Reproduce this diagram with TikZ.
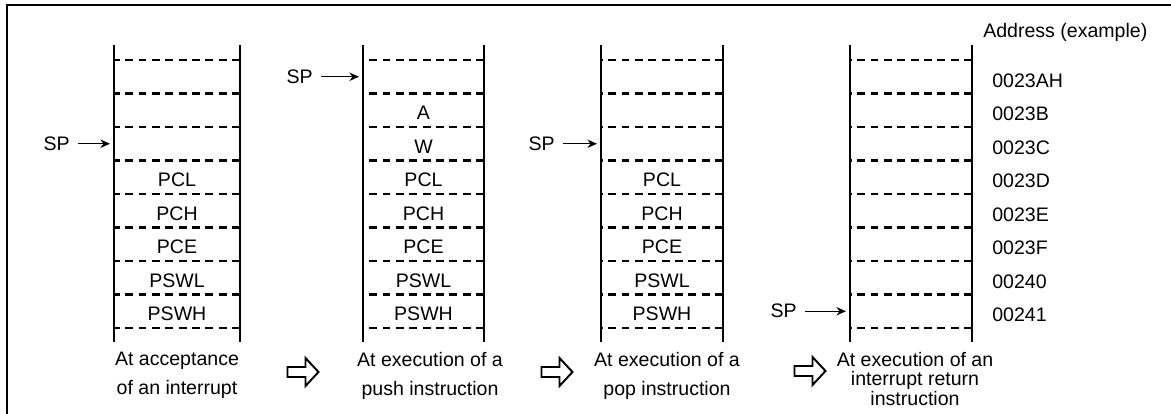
\documentclass[tikz,border=0pt]{standalone}
\usepackage{fontspec}
\setmainfont{Liberation Sans}
\usetikzlibrary{arrows.meta}

\tikzset{
  wall/.style={line width=1.2pt},
  cell/.style={line width=1.6pt, dash pattern=on 5.6pt off 3.9pt},
  lbl/.style={inner sep=0pt, font=\fontsize{13.9}{16}\selectfont},
  caption/.style={lbl, align=center, anchor=north, font=\fontsize{13.9}{20.8}\selectfont},
  sparrow/.style={->, line width=1pt, shorten <=0.2cm, shorten >=0.1cm},
  hollow/.style={line width=1.4pt, line join=miter},
}

\begin{document}
\begin{tikzpicture}[>={Stealth[length=0.24cm,width=0.21cm]}, x=0.025cm, y=-0.025cm]
\useasboundingbox (0,0) rectangle (1171,414);

% frame
\draw[line width=1.4pt] (7,414) -- (7,5) -- (1171,5);

% the four stacks
\foreach \n/\l/\r in {1/114/240, 2/363/484, 3/601/723, 4/850/972}{
  \draw[wall] (\l,45) -- (\l,342);
  \draw[wall] (\r,45) -- (\r,342);
  \foreach \k in {0,...,8}
    \draw[cell] (\r,60+33.5*\k) -- (\l,60+33.5*\k);
  \foreach \k in {1,...,8}{
    \coordinate (s\n r\k) at ({(\l+\r)/2},46.25+33.5*\k);
    \coordinate (s\n l\k) at (\l,43.25+33.5*\k);
  }
}

% saved registers
\foreach \n in {1,2,3}
  \foreach \t [count=\k from 4] in {PCL,PCH,PCE,PSWL,PSWH}
    \node[lbl] (s\n-\t) at (s\n r\k) {\t};
\node[lbl] (s2-A) at (s2r2) {A};
\node[lbl] (s2-W) at (s2r3) {W};

% stack pointer
\node[lbl, anchor=east] (sp1) at (70,143.75) {SP};
\draw[sparrow] (sp1) -- (s1l3);
\node[lbl, anchor=east] (sp2) at (313,76.75) {SP};
\draw[sparrow] (sp2) -- (s2l1);
\node[lbl, anchor=east] (sp3) at (555,143.75) {SP};
\draw[sparrow] (sp3) -- (s3l3);
\node[lbl, anchor=east] (sp4) at (797,311.25) {SP};
\draw[sparrow] (sp4) -- (s4l8);

% addresses
\node[lbl, anchor=base west] (addr) at (983,37) {Address (example)};
\foreach \a [count=\k] in {0023AH,0023B,0023C,0023D,0023E,0023F,00240,00241}
  \node[lbl, anchor=west] (a\k) at (992,47+33.5*\k) {\a};

% captions
\node[caption] (cap1) at (177,352) {At acceptance\\of an interrupt};
\node[caption] (cap2) at (430,352) {At execution of a\\push instruction};
\node[caption] (cap3) at (667,352) {At execution of a\\pop instruction};
\node[caption, font=\fontsize{13.9}{13.9}\selectfont] (cap4) at (915,352) {At execution of an\\interrupt return\\instruction};

% hollow arrows
\foreach \x/\y in {303/372, 557/372, 810/371}
  \draw[hollow] (\x-15.5,\y-5) -- ++(18,0) -- ++(0,-9) -- ++(13,14) -- ++(-13,14) -- ++(0,-9) -- ++(-18,0) -- cycle;

\end{tikzpicture}
\end{document}
